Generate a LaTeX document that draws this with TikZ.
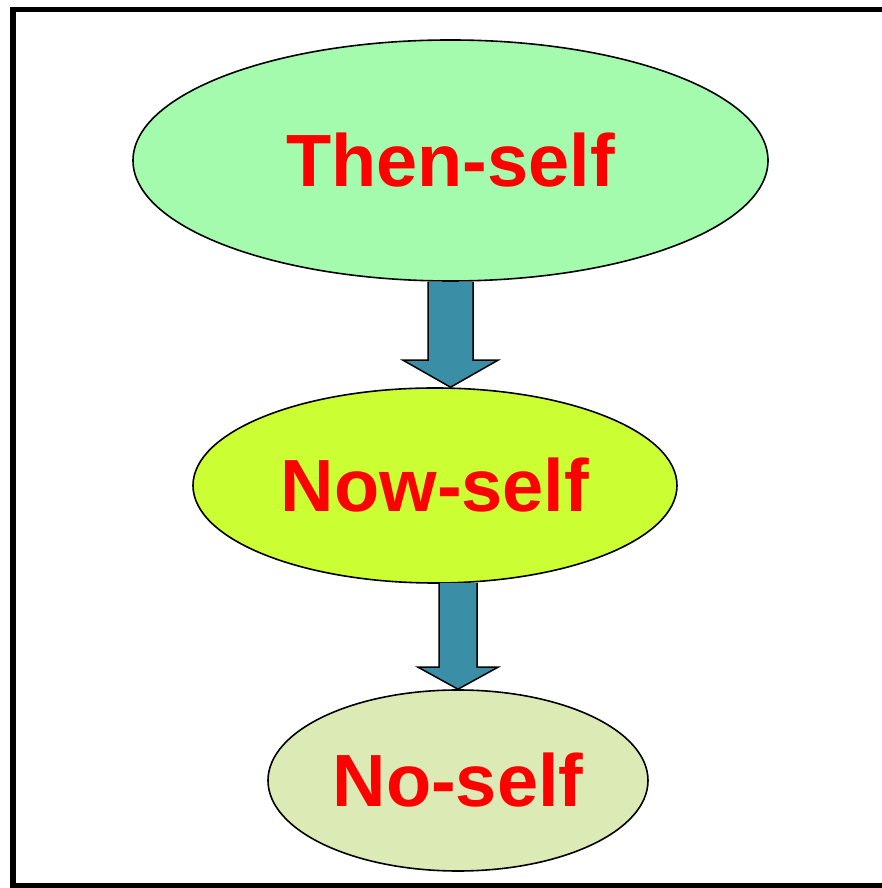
\documentclass[tikz,border=0pt]{standalone}
\usepackage{fontspec}
\setmainfont{Liberation Sans}
\usetikzlibrary{shapes.geometric,calc}

\definecolor{thengreen}{HTML}{A4FBAE}
\definecolor{nowlime}{HTML}{CCFF33}
\definecolor{nopale}{HTML}{DCEBB5}
\definecolor{arrowteal}{HTML}{3A8FA6}

% block arrow: start, tip, half shaft, half head, head length
\newcommand{\fatarrow}[5]{%
  \draw[fat_arrow] let \p1=(#1), \p2=(#2) in
    (\x1-#3,\y1) -- (\x1-#3,\y2+#5) -- (\x2-#4,\y2+#5) -- (\p2)
    -- (\x2+#4,\y2+#5) -- (\x1+#3,\y2+#5) -- (\x1+#3,\y1);}

\begin{document}
\begin{tikzpicture}[
  x=1pt, y=1pt,
  self_oval/.style={ellipse, draw=black, line width=1.6pt, inner sep=0pt,
    text=red, font=\fontsize{74}{74}\selectfont\bfseries},
  fat_arrow/.style={fill=arrowteal, draw=black, line width=1.5pt, line join=miter},
  frame_line/.style={draw=black, line width=5.5pt},
]
\useasboundingbox (0,0) rectangle (882,888);
\draw[frame_line] (13,2.5) rectangle (900,878.5);

\draw (450.5,727.5) node (then_self) [self_oval, fill=thengreen, minimum width=635pt, minimum height=241pt] {Then-self};
\draw (435,402.5) node (now_self) [self_oval, fill=nowlime, minimum width=484pt, minimum height=195pt] {Now-self};
\draw (458,107.5) node (no_self) [self_oval, fill=nopale, minimum width=380pt, minimum height=181pt] {No-self};

\coordinate (tip_a) at (then_self.south |- now_self.north);
\coordinate (tip_b) at (no_self.north);
\coordinate (root_b) at ($(no_self.north |- now_self.south)+(0,1)$);

\fatarrow{then_self.south}{tip_a}{22.5pt}{47.5pt}{27pt}
\fatarrow{root_b}{tip_b}{19pt}{40pt}{22pt}
\end{tikzpicture}
\end{document}
